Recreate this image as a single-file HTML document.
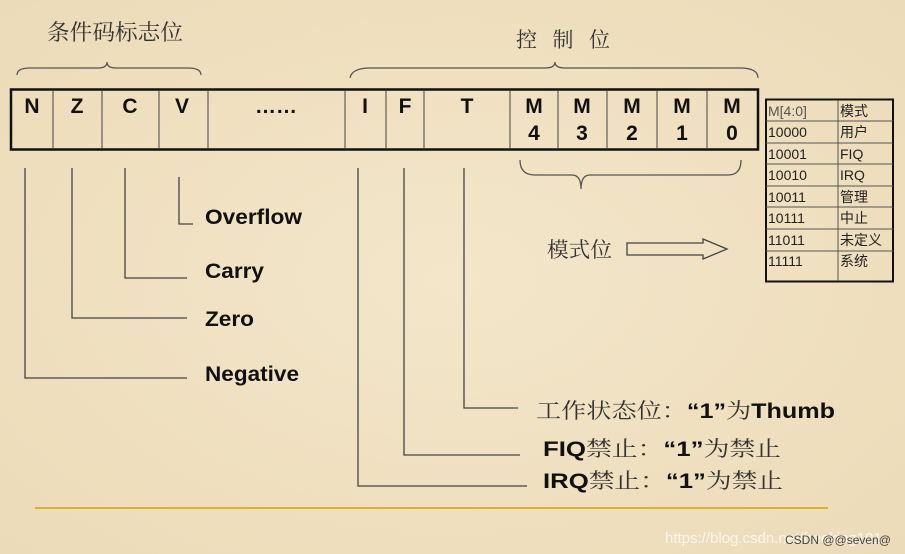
<!DOCTYPE html>
<html><head><meta charset="utf-8">
<style>
html,body{margin:0;padding:0;}
body{width:905px;height:554px;overflow:hidden;background:#f1e3c6;}
svg{display:block;}
.b{font-family:"Liberation Sans",Arial,sans-serif;font-weight:bold;fill:#111;}
.c{font-family:"Liberation Sans","Noto Sans CJK SC",sans-serif;fill:#222;}
.s{font-family:"Noto Serif CJK SC","Noto Sans CJK SC",serif;fill:#333;}
</style></head><body>
<svg width="905" height="554" viewBox="0 0 905 554">
<defs>
<radialGradient id="g" cx="50%" cy="50%" r="70%"><stop offset="0" stop-color="#f3e6ca"/><stop offset="1" stop-color="#ecdbb8"/></radialGradient>
</defs>
<rect width="905" height="554" fill="url(#g)"/>
<text x="47" y="40" class="s" font-size="22" textLength="136" lengthAdjust="spacingAndGlyphs">条件码标志位</text>
<text x="516" y="47" class="s" font-size="21" textLength="94">控制位</text>
<g fill="none" stroke="#555" stroke-width="1.3">
<path d="M17,75 Q17,68 30,68 L98,68 Q107,68 107,62 Q107,68 116,68 L188,68 Q201,68 201,75"/>
<path d="M350,78 Q352,68 370,68 L545,68 Q555,68 555,62 Q555,68 565,68 L740,68 Q758,68 758,78"/>
<path d="M520,160 Q520,175 535,175 L572,175 Q581,175 581,189 Q581,175 590,175 L728,175 Q741,175 741,160"/>
</g>
<rect x="11" y="89.5" width="747" height="60" fill="none" stroke="#111" stroke-width="2.5"/>
<g stroke="#444" stroke-width="1">
<line x1="53" y1="90" x2="53" y2="149"/><line x1="102" y1="90" x2="102" y2="149"/>
<line x1="159" y1="90" x2="159" y2="149"/><line x1="208" y1="90" x2="208" y2="149"/>
<line x1="345" y1="90" x2="345" y2="149"/><line x1="386" y1="90" x2="386" y2="149"/>
<line x1="424" y1="90" x2="424" y2="149"/><line x1="510" y1="90" x2="510" y2="149"/>
<line x1="558" y1="90" x2="558" y2="149"/><line x1="607" y1="90" x2="607" y2="149"/>
<line x1="657" y1="90" x2="657" y2="149"/><line x1="707" y1="90" x2="707" y2="149"/>
</g>
<g class="b" font-size="21" text-anchor="middle">
<text x="32" y="113">N</text><text x="77" y="113">Z</text><text x="130" y="113">C</text><text x="182" y="113">V</text>
<text x="276" y="113">……</text><text x="365" y="113">I</text><text x="405" y="113">F</text><text x="467" y="113">T</text>
<text x="534" y="113">M</text><text x="582" y="113">M</text><text x="632" y="113">M</text><text x="682" y="113">M</text><text x="732" y="113">M</text>
<text x="534" y="140">4</text><text x="582" y="140">3</text><text x="632" y="140">2</text><text x="682" y="140">1</text><text x="732" y="140">0</text>
</g>
<g fill="none" stroke="#444" stroke-width="1.3">
<path d="M25,168 V378 H187"/>
<path d="M72,168 V318 H187"/>
<path d="M125,168 V278 H187"/>
<path d="M179,177 V224 H193"/>
<path d="M358,168 V486 H527"/>
<path d="M404,168 V455 H520"/>
<path d="M464,168 V408 H518"/>
</g>
<g class="b" font-size="21">
<text x="205" y="224" textLength="97" lengthAdjust="spacingAndGlyphs">Overflow</text>
<text x="205" y="278" textLength="59" lengthAdjust="spacingAndGlyphs">Carry</text>
<text x="205" y="326" textLength="49" lengthAdjust="spacingAndGlyphs">Zero</text>
<text x="205" y="381" textLength="94" lengthAdjust="spacingAndGlyphs">Negative</text>
</g>
<text x="536" y="418" class="c" font-size="21" textLength="299" lengthAdjust="spacingAndGlyphs"><tspan class="s">工作状态位：</tspan><tspan font-weight="bold" fill="#111">“1”</tspan><tspan class="s">为</tspan><tspan font-weight="bold" fill="#111">Thumb</tspan></text>
<text x="543" y="456" class="c" font-size="21" textLength="238" lengthAdjust="spacingAndGlyphs"><tspan font-weight="bold" fill="#111">FIQ</tspan><tspan class="s">禁止：</tspan><tspan font-weight="bold" fill="#111">“1”</tspan><tspan class="s">为禁止</tspan></text>
<text x="543" y="488" class="c" font-size="21" textLength="240" lengthAdjust="spacingAndGlyphs"><tspan font-weight="bold" fill="#111">IRQ</tspan><tspan class="s">禁止：</tspan><tspan font-weight="bold" fill="#111">“1”</tspan><tspan class="s">为禁止</tspan></text>
<text x="547" y="257" class="s" font-size="21" textLength="65" lengthAdjust="spacingAndGlyphs">模式位</text>
<path d="M627,243 H703 V239 L727,249 L703,259 V255 H627 Z" fill="none" stroke="#444" stroke-width="1.3"/>
<rect x="766" y="99.5" width="127" height="182" fill="none" stroke="#111" stroke-width="2"/>
<g stroke="#555" stroke-width="1">
<line x1="838" y1="100" x2="838" y2="281"/>
<line x1="766" y1="121" x2="893" y2="121"/><line x1="766" y1="143" x2="893" y2="143"/>
<line x1="766" y1="164" x2="893" y2="164"/><line x1="766" y1="186" x2="893" y2="186"/>
<line x1="766" y1="207" x2="893" y2="207"/><line x1="766" y1="229" x2="893" y2="229"/>
<line x1="766" y1="251" x2="893" y2="251"/>
</g>
<g class="c" font-size="14">
<text x="768" y="116" fill="#555">M[4:0]</text><text x="840" y="116">模式</text>
<text x="768" y="137">10000</text><text x="840" y="137">用户</text>
<text x="768" y="159">10001</text><text x="840" y="159">FIQ</text>
<text x="768" y="180">10010</text><text x="840" y="180">IRQ</text>
<text x="768" y="202">10011</text><text x="840" y="202">管理</text>
<text x="768" y="223">10111</text><text x="840" y="223">中止</text>
<text x="768" y="245">11011</text><text x="840" y="245">未定义</text>
<text x="768" y="266">11111</text><text x="840" y="266">系统</text>
</g>
<line x1="35" y1="508" x2="828" y2="508" stroke="#d8a000" stroke-width="1.5"/>
<text x="665" y="543" font-family="Liberation Sans,sans-serif" font-size="15" fill="#fff" opacity="0.8">https://blog.csdn.net/freeking101</text>
<text x="785" y="544" font-family="Liberation Sans,sans-serif" font-size="12" fill="#444">CSDN @@seven@</text>
</svg>
</body></html>
